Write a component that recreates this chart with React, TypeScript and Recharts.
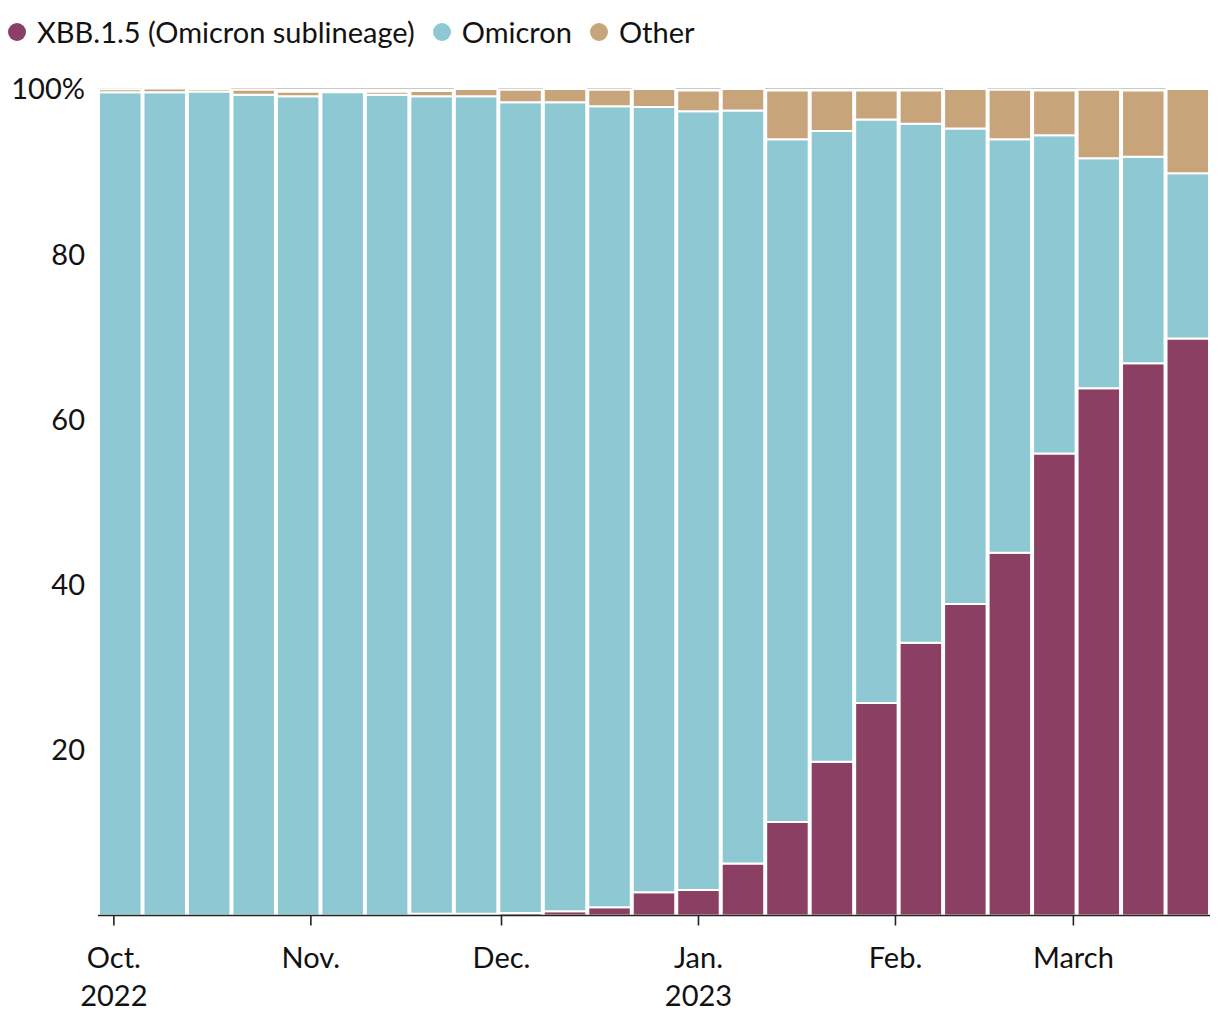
import React from 'react';
import { BarChart, Bar, XAxis, YAxis, CartesianGrid } from 'recharts';

const FONT = 'Lato, "Noto Sans", sans-serif';

const weeks = [
  '2022-10-02', '2022-10-09', '2022-10-16', '2022-10-23', '2022-10-30',
  '2022-11-06', '2022-11-13', '2022-11-20', '2022-11-27', '2022-12-04',
  '2022-12-11', '2022-12-18', '2022-12-25', '2023-01-01', '2023-01-08',
  '2023-01-15', '2023-01-22', '2023-01-29', '2023-02-05', '2023-02-12',
  '2023-02-19', '2023-02-26', '2023-03-05', '2023-03-12', '2023-03-19',
];

const xbb = [
  0, 0, 0, 0, 0,
  0, 0, 0.2, 0.2, 0.3,
  0.5, 1.0, 2.8, 3.1, 6.3,
  11.3, 18.6, 25.7, 33.0, 37.7,
  43.9, 55.9, 63.8, 66.8, 69.8,
];

const omicron = [
  99.6, 99.6, 99.7, 99.3, 99.1,
  99.6, 99.3, 98.9, 98.9, 98.1,
  97.9, 96.9, 95.0, 94.2, 91.1,
  82.6, 76.3, 70.6, 62.8, 57.5,
  50.0, 38.5, 27.8, 25.0, 20.0,
];

const other = [
  0.35, 0.45, 0.3, 0.6, 0.55,
  0.0, 0.35, 0.65, 0.9, 1.5,
  1.6, 2.0, 2.2, 2.5, 2.6,
  5.9, 4.9, 3.5, 4.0, 4.8,
  6.0, 5.4, 8.3, 8.0, 10.2,
];

const monthTickDates = ['2022-10-01', '2022-11-01', '2022-12-01', '2023-01-01', '2023-02-01', '2023-03-01'];
const monthTickLabels = [['Oct.', '2022'], ['Nov.'], ['Dec.'], ['Jan.', '2023'], ['Feb.'], ['March']];
const yTicks = [20, 40, 60, 80, 100];
const domainDates = ['2022-09-28T12:00:00Z', '2023-03-22T12:00:00Z'];

const seriesNames = ['XBB.1.5 (Omicron sublineage)', 'Omicron', 'Other'];
const seriesColors = ['#8B3F62', '#8EC9D3', '#C8A47B'];

const DAY_MS = 86400000;
const ORIGIN = Date.parse('2022-10-01T00:00:00Z');
const toDay = (s: string) => (Date.parse(s.length === 10 ? s + 'T00:00:00Z' : s) - ORIGIN) / DAY_MS;

const data = weeks.map((w, i) => ({
  day: toDay(w),
  xbb: xbb[i],
  omicron: omicron[i],
  other: other[i],
}));

const monthTicks = monthTickDates.map(toDay);
const xDomain = [toDay(domainDates[0]), toDay(domainDates[1])];

function MonthTick(props: any) {
  const { x, y, payload } = props;
  const idx = monthTicks.findIndex((t) => Math.abs(t - payload.value) < 1e-6);
  const lines = idx >= 0 ? monthTickLabels[idx] : [];
  return (
    <g>
      {lines.map((l, i) => (
        <text
          key={i}
          x={x}
          y={y + 40.5 + i * 38}
          textAnchor="middle"
          fill="#121212"
          fontSize={29}
          fontFamily={FONT}
        >
          {l}
        </text>
      ))}
    </g>
  );
}

function LegendRow() {
  return (
    <div
      style={{
        position: 'absolute',
        left: 8,
        top: 14,
        height: 36,
        display: 'flex',
        alignItems: 'center',
        fontFamily: FONT,
        fontSize: 29,
        color: '#121212',
        whiteSpace: 'nowrap',
      }}
    >
      {seriesNames.map((n, i) => (
        <div key={n} style={{ display: 'flex', alignItems: 'center', marginRight: 18 }}>
          <span
            style={{
              display: 'inline-block',
              width: 18,
              height: 18,
              borderRadius: '50%',
              background: seriesColors[i],
              marginRight: 11,
            }}
          />
          <span style={{ lineHeight: '36px' }}>{n}</span>
        </div>
      ))}
    </div>
  );
}

export default function App() {
  return (
    <div style={{ position: 'absolute', left: 0, top: 0, width: 1220, height: 1020, background: '#fff' }}>
      <LegendRow />
      <BarChart
        width={1220}
        height={1020}
        data={data}
        margin={{ top: 88.5, right: 10, bottom: 4.5, left: 0 }}
      >
        <CartesianGrid
          vertical={false}
          stroke="#c8c8c8"
          strokeWidth={1.2}
          horizontalCoordinatesGenerator={(p: any) => [p && p.offset ? p.offset.top : 88.5]}
        />
        <XAxis
          dataKey="day"
          type="number"
          domain={xDomain}
          ticks={monthTicks}
          interval={0}
          height={100}
          tickSize={10}
          axisLine={{ stroke: '#222', strokeWidth: 1.6 }}
          tickLine={{ stroke: '#222', strokeWidth: 1.6 }}
          tick={<MonthTick />}
        />
        <YAxis
          type="number"
          domain={[0, 100]}
          ticks={yTicks}
          width={98}
          axisLine={false}
          tickLine={false}
          tickSize={0}
          tickMargin={13}
          tick={{ fill: '#121212', fontSize: 29, fontFamily: FONT }}
          tickFormatter={(v: number) => (v === 100 ? '100%' : String(v))}
        />
        <Bar dataKey="xbb" stackId="a" fill={seriesColors[0]} stroke="#fff" strokeWidth={2} barSize={42.5} isAnimationActive={false} />
        <Bar dataKey="omicron" stackId="a" fill={seriesColors[1]} stroke="#fff" strokeWidth={2} barSize={42.5} isAnimationActive={false} />
        <Bar dataKey="other" stackId="a" fill={seriesColors[2]} stroke="#fff" strokeWidth={2} barSize={42.5} isAnimationActive={false} />
      </BarChart>
    </div>
  );
}
